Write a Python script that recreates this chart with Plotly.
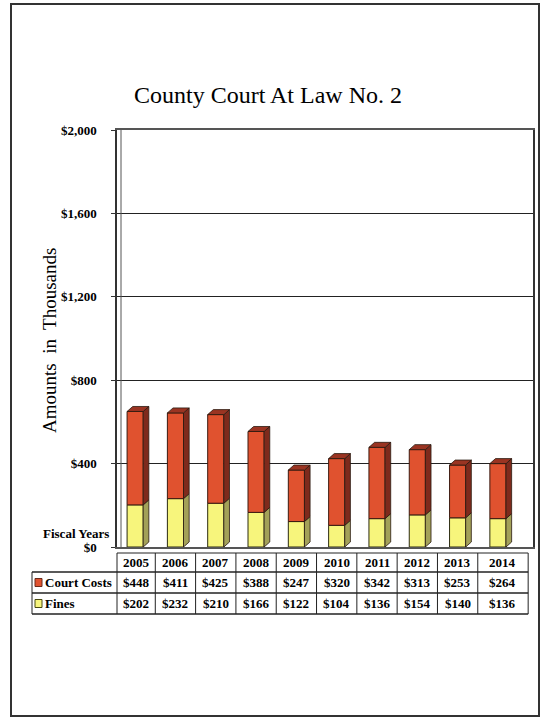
import plotly.graph_objects as go

years = ["2005", "2006", "2007", "2008", "2009", "2010", "2011", "2012", "2013", "2014"]
court_costs = [448, 411, 425, 388, 247, 320, 342, 313, 253, 264]
fines = [202, 232, 210, 166, 122, 104, 136, 154, 140, 136]
y_tickvals = [0, 400, 800, 1200, 1600, 2000]
y_ticktext = ["$0", "$400", "$800", "$1,200", "$1,600", "$2,000"]

W, H = 541, 717
ML, MR, MT, MB = 117, 8, 130, 170
PW, PH = W - ML - MR, H - MT - MB
XR = [-0.45, 9.87]
FONT = "Liberation Serif"

RED, RED_SIDE = "#E0522F", "#7E2A1C"
YEL, YEL_SIDE = "#F7F57C", "#A3A158"

w = 0.4      # bar width in category units
dx = 0.14    # depth offset (x)
dy = 24      # depth offset (y, thousands)

xs = list(range(len(years)))


def px_x(v):
    return ML + (v - XR[0]) / (XR[1] - XR[0]) * PW


def paper_x(px):
    return (px - ML) / PW


def paper_y(py):
    return (H - MB - py) / PH


def faces(bottoms, tops):
    sx, sy, tx, ty = [], [], [], []
    for i, b, t in zip(xs, bottoms, tops):
        r = i + w / 2
        l = i - w / 2
        sx += [r, r + dx, r + dx, r, r, None]
        sy += [b, b + dy, t + dy, t, b, None]
        tx += [l, l + dx, r + dx, r, l, None]
        ty += [t, t + dy, t + dy, t, t, None]
    return sx, sy, tx, ty


fig = go.Figure()

tot = [f + c for f, c in zip(fines, court_costs)]
zeros = [0] * len(years)

fsx, fsy, ftx, fty = faces(zeros, fines)
csx, csy, ctx, cty = faces(fines, tot)
for xx, yy, col in [(fsx, fsy, YEL_SIDE), (csx, csy, RED_SIDE), (ctx, cty, "#9A3422")]:
    fig.add_trace(go.Scatter(x=xx, y=yy, mode="lines", fill="toself", fillcolor=col,
                             line=dict(color="#2a1a10", width=0.8), hoverinfo="skip",
                             showlegend=False))

fig.add_trace(go.Bar(x=xs, y=fines, width=w, marker=dict(color=YEL, line=dict(color="#2a2a10", width=1)),
                     name="Fines", showlegend=False))
fig.add_trace(go.Bar(x=xs, y=court_costs, width=w, base=fines,
                     marker=dict(color=RED, line=dict(color="#3a1a10", width=1)),
                     name="Court Costs", showlegend=False))

fig.update_layout(
    width=W, height=H,
    margin=dict(l=ML, r=MR, t=MT, b=MB, autoexpand=False),
    paper_bgcolor="white", plot_bgcolor="white",
    barmode="overlay",
    font=dict(family=FONT, color="black"),
    title=dict(text="County Court At Law No. 2", x=268 / W, xanchor="center",
               y=1 - 95 / H, yanchor="middle", font=dict(family=FONT, size=24, color="black")),
    xaxis=dict(range=XR, showticklabels=False, showgrid=False, zeroline=False,
               showline=True, linecolor="#555", linewidth=1.5, mirror=True, ticks=""),
    yaxis=dict(range=[0, 2000], tickvals=y_tickvals, ticktext=y_ticktext,
               tickfont=dict(family=FONT, size=13, color="black", weight="bold"),
               showgrid=True, gridcolor="#222", gridwidth=1.3, zeroline=False,
               showline=True, linecolor="#333", linewidth=1.5, mirror=True,
               ticks="outside", ticklen=4, tickcolor="#333", ticklabelstandoff=12),
)

shapes = []
annos = []

annos.append(dict(text="Amounts  in  Thousands", x=paper_x(49), y=paper_y(341), xref="paper", yref="paper",
                  xanchor="center", yanchor="middle",
                  textangle=-90, showarrow=False, font=dict(family=FONT, size=19, color="black")))
annos.append(dict(text="<b>Fiscal Years</b>", x=paper_x(111), y=paper_y(533), xref="paper", yref="paper",
                  xanchor="right", yanchor="middle", showarrow=False, font=dict(family=FONT, size=13, color="black")))

shapes.append(dict(type="line", xref="paper", yref="paper", x0=paper_x(121), x1=paper_x(121),
                   y0=paper_y(547), y1=paper_y(130), line=dict(color="#555", width=1)))

edges = [ML] + [px_x(i + 0.5) for i in range(len(years) - 1)] + [px_x(9.75)]
row_y = [553, 572, 593, 614]
lab_left = 32
LC = "#222"
shapes.append(dict(type="line", xref="paper", yref="paper", x0=paper_x(edges[0]), x1=paper_x(edges[-1]),
                   y0=paper_y(row_y[0]), y1=paper_y(row_y[0]), line=dict(color=LC, width=1)))
for ry in row_y[1:]:
    shapes.append(dict(type="line", xref="paper", yref="paper", x0=paper_x(lab_left), x1=paper_x(edges[-1]),
                       y0=paper_y(ry), y1=paper_y(ry), line=dict(color=LC, width=1.3)))
for e in edges:
    shapes.append(dict(type="line", xref="paper", yref="paper", x0=paper_x(e), x1=paper_x(e),
                       y0=paper_y(row_y[0]), y1=paper_y(row_y[-1]), line=dict(color=LC, width=1)))
shapes.append(dict(type="line", xref="paper", yref="paper", x0=paper_x(lab_left), x1=paper_x(lab_left),
                   y0=paper_y(row_y[1]), y1=paper_y(row_y[-1]), line=dict(color=LC, width=1)))

rows = [(years, None), ([f"${v}" for v in court_costs], "Court Costs"), ([f"${v}" for v in fines], "Fines")]
legend_cols = {"Court Costs": (RED, "#6a2a1a"), "Fines": (YEL, "#4a4a10")}
for r, (vals, label) in enumerate(rows):
    yc = (row_y[r] + row_y[r + 1]) / 2
    for k, v in enumerate(vals):
        xc = (edges[k] + edges[k + 1]) / 2
        annos.append(dict(text=f"<b>{v}</b>", x=paper_x(xc), y=paper_y(yc), xref="paper", yref="paper",
                          xanchor="center", yanchor="middle",
                          showarrow=False, font=dict(family=FONT, size=13, color="black")))
    if label:
        fc, lc = legend_cols[label]
        shapes.append(dict(type="rect", xref="paper", yref="paper", x0=paper_x(35), x1=paper_x(42),
                           y0=paper_y(yc - 4), y1=paper_y(yc + 4), fillcolor=fc, line=dict(color=lc, width=1)))
        annos.append(dict(text=f"<b>{label}</b>", x=paper_x(43), y=paper_y(yc), xref="paper", yref="paper",
                          xanchor="left", yanchor="middle", showarrow=False,
                          font=dict(family=FONT, size=13, color="black")))

shapes.append(dict(type="rect", xref="paper", yref="paper", x0=paper_x(11), x1=paper_x(539),
                   y0=paper_y(716), y1=paper_y(4), line=dict(color="#333", width=2)))

fig.update_layout(shapes=shapes, annotations=annos)
fig.write_html("out.html", config={"displayModeBar": False},
               post_script="document.body.style.margin='0';")
